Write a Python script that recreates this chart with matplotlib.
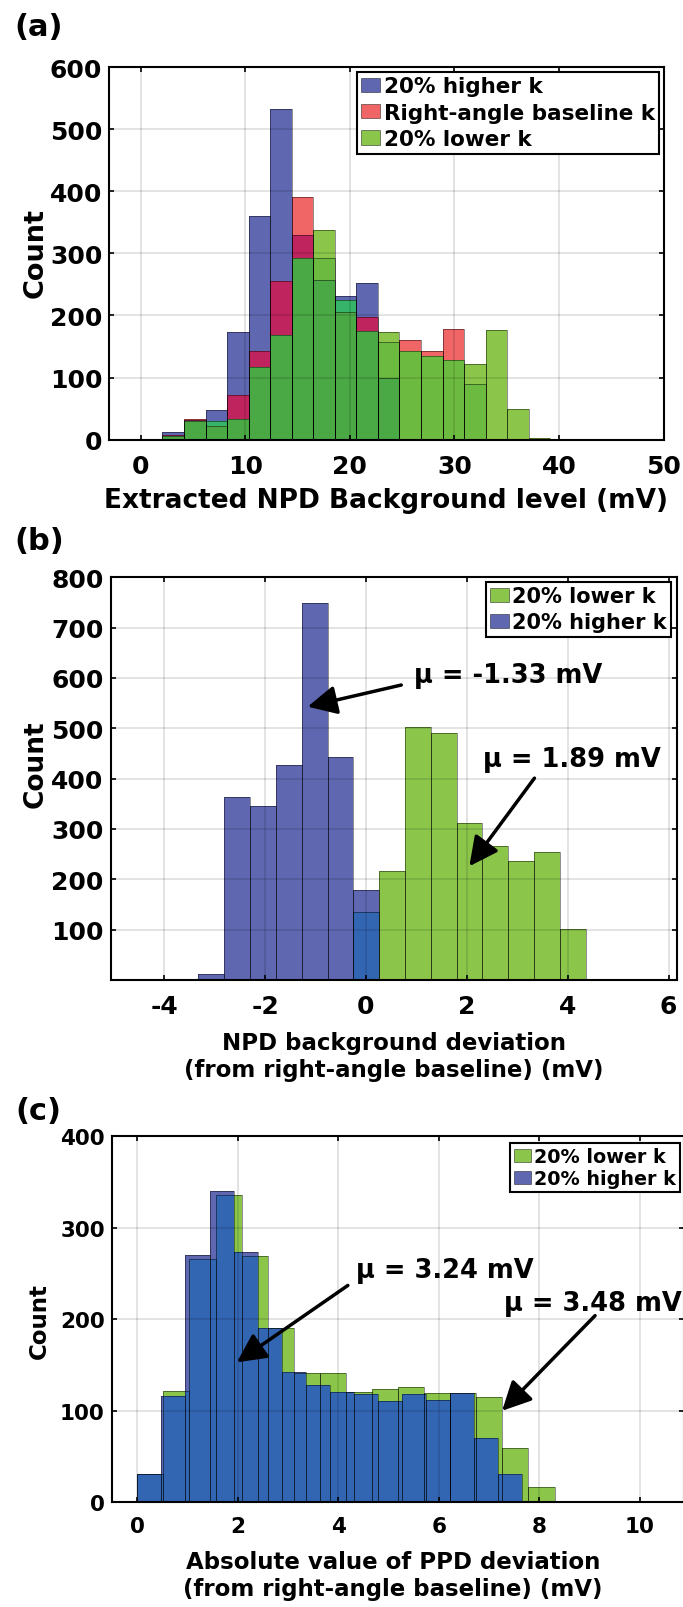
import numpy as np
import matplotlib.pyplot as plt
from matplotlib.patches import Patch

plt.rcParams["font.family"] = ["DejaVu Sans"]
plt.rcParams["font.weight"] = "bold"
plt.rcParams["axes.labelweight"] = "bold"
plt.rcParams["axes.unicode_minus"] = False

W, H = 683, 1608

# colours as they appear in the figure (single series and overlaps)
BLUE = "#5f67b1"
RED = "#f06566"
GREEN = "#8bc64b"
BLUE_RED = "#c0245e"
BLUE_GREEN = "#35b46a"
RED_GREEN = "#6cbb40"
ALL3 = "#4aa845"
OVERLAP = "#3366b2"
EDGE = (0, 0, 0, 0.45)

# (a) extracted NPD background level, shared bin edges (mV)
A_EDGES = [2.08, 4.14, 6.20, 8.26, 10.32, 12.38, 14.44, 16.50, 18.56, 20.62,
           22.68, 24.74, 26.80, 28.86, 30.92, 32.98, 35.04, 37.10, 39.16]
A_HIGHER = [13, 32, 48, 174, 360, 532, 330, 257, 231, 252, 100, 0, 0, 0, 0, 0, 0, 0]
A_BASE = [8, 33, 22, 72, 143, 255, 390, 292, 206, 197, 157, 160, 142, 178, 90, 0, 0, 0]
A_LOWER = [6, 30, 30, 34, 117, 169, 292, 338, 225, 175, 174, 143, 135, 128, 122, 176, 49, 2]

# (b) NPD background deviation from right-angle baseline (mV)
B_EDGES = [-3.32, -2.81, -2.30, -1.78, -1.27, -0.76, -0.25, 0.26, 0.77, 1.29,
           1.80, 2.31, 2.82, 3.34, 3.85, 4.36]
B_LOWER = [0, 0, 0, 0, 0, 0, 135, 216, 502, 491, 311, 267, 236, 255, 101]
B_HIGHER = [12, 363, 345, 428, 748, 443, 178, 0, 0, 0, 0, 0, 0, 0, 0]

# (c) absolute PPD deviation (mV), each series has its own bins
C_EDGES_LOWER = [0, 0.519, 1.038, 1.557, 2.076, 2.595, 3.114, 3.633, 4.152,
                 4.671, 5.190, 5.709, 6.228, 6.747, 7.266, 7.785, 8.304]
C_LOWER = [31, 122, 266, 336, 269, 190, 141, 141, 121, 124, 126, 119, 119, 115, 59, 17]
C_EDGES_HIGHER = [0, 0.479, 0.958, 1.437, 1.916, 2.395, 2.874, 3.353, 3.832,
                  4.311, 4.790, 5.269, 5.748, 6.227, 6.706, 7.185, 7.664, 8.143]
C_HIGHER = [31, 116, 270, 340, 274, 191, 142, 128, 121, 118, 111, 118, 112, 120, 70, 31, 1]

LBL_HIGHER = "20% higher k"
LBL_BASE = "Right-angle baseline k"
LBL_LOWER = "20% lower k"


def bars(ax, edges, counts, color, **kw):
    e = np.asarray(edges, dtype=float)
    return ax.bar(e[:-1], counts, width=np.diff(e), align="edge",
                  color=color, linewidth=0, **kw)


def outline(ax, edges, counts):
    e = np.asarray(edges, dtype=float)
    ax.bar(e[:-1], counts, width=np.diff(e), align="edge", fill=False,
           edgecolor=EDGE, linewidth=0.7, zorder=2)


def style(ax, fs):
    ax.set_axisbelow(False)
    ax.grid(True, color="black", alpha=0.13, linewidth=1.2)
    ax.tick_params(direction="in", length=3.6, width=1.2, top=True, right=True,
                   labelsize=fs, pad=10)
    ax.tick_params(axis="y", pad=5)
    for s in ax.spines.values():
        s.set_linewidth(1.5)


def px_axes(fig, l, t, r, b):
    return fig.add_axes([l / W, 1 - b / H, (r - l) / W, (b - t) / H])


def swatch(color):
    return Patch(facecolor=color, edgecolor=EDGE, linewidth=0.7)


def legend(ax, fig, handles, labels, right, top, fs, spacing):
    leg = ax.legend(handles, labels, loc="upper right",
                    bbox_to_anchor=(right / W, 1 - top / H),
                    bbox_transform=fig.transFigure, borderaxespad=0,
                    fontsize=fs, fancybox=False, framealpha=1,
                    edgecolor="black", handlelength=0.9, handleheight=0.65,
                    handletextpad=0.15, borderpad=0.2, labelspacing=spacing)
    leg.get_frame().set_linewidth(1.5)
    leg.set_zorder(5)


def arrow(ax, head, tail, text, text_xy, fs=18.5):
    ax.annotate("", xy=head, xytext=tail,
                arrowprops=dict(arrowstyle="-|>", color="black", lw=2.5,
                                mutation_scale=44, shrinkA=0, shrinkB=0),
                zorder=6)
    ax.text(text_xy[0], text_xy[1], text, fontsize=fs, ha="left", va="center",
            zorder=6)


fig = plt.figure(figsize=(W / 100, H / 100), dpi=100)

# ---------------- (a)
ax = px_axes(fig, 109.3, 68, 663.7, 440.7)
bars(ax, A_EDGES, A_HIGHER, BLUE)
bars(ax, A_EDGES, A_BASE, RED)
bars(ax, A_EDGES, A_LOWER, GREEN)
bars(ax, A_EDGES, np.minimum(A_HIGHER, A_BASE), BLUE_RED)
bars(ax, A_EDGES, np.minimum(A_HIGHER, A_LOWER), BLUE_GREEN)
bars(ax, A_EDGES, np.minimum(A_BASE, A_LOWER), RED_GREEN)
bars(ax, A_EDGES, np.minimum(np.minimum(A_HIGHER, A_BASE), A_LOWER), ALL3)
for c in (A_HIGHER, A_BASE, A_LOWER):
    outline(ax, A_EDGES, c)
ax.set_xlim(-3, 50)
ax.set_ylim(0, 600)
ax.set_xticks(np.arange(0, 51, 10))
ax.set_yticks(np.arange(0, 601, 100))
style(ax, 18)
ax.set_xlabel("Extracted NPD Background level (mV)", fontsize=19, va="center")
ax.xaxis.set_label_coords(386.5 / W, 1 - 501 / H, transform=fig.transFigure)
ax.set_ylabel("Count", fontsize=19.5, va="center")
ax.yaxis.set_label_coords(35.5 / W, 1 - 253 / H, transform=fig.transFigure)
legend(ax, fig, [swatch(BLUE), swatch(RED), swatch(GREEN)],
       [LBL_HIGHER, LBL_BASE, LBL_LOWER], 659, 73, 15.5, 0.3)
fig.text(14 / W, 1 - 27 / H, "(a)", fontsize=22, va="center", ha="left")

# ---------------- (b)
ax = px_axes(fig, 110.7, 578.3, 676.7, 981)
bars(ax, B_EDGES, B_LOWER, GREEN)
bars(ax, B_EDGES, B_HIGHER, BLUE)
bars(ax, B_EDGES, np.minimum(B_LOWER, B_HIGHER), OVERLAP)
outline(ax, B_EDGES, B_LOWER)
outline(ax, B_EDGES, B_HIGHER)
ax.set_xlim(-5.06, 6.16)
ax.set_ylim(0, 800)
ax.set_xticks(np.arange(-4, 7, 2))
ax.set_yticks(np.arange(100, 801, 100))
style(ax, 18)
ax.set_xlabel("NPD background deviation\n(from right-angle baseline) (mV)",
              fontsize=16.5, va="center", linespacing=1.25)
ax.xaxis.set_label_coords(394 / W, 1 - 1057 / H, transform=fig.transFigure)
ax.set_ylabel("Count", fontsize=19, va="center")
ax.yaxis.set_label_coords(35.5 / W, 1 - 764 / H, transform=fig.transFigure)
legend(ax, fig, [swatch(GREEN), swatch(BLUE)],
       [LBL_LOWER, LBL_HIGHER], 671, 583, 15, 0.3)
arrow(ax, (-1.155, 543), (0.70, 586), "\u03bc = -1.33 mV", (0.96, 606))
arrow(ax, (2.05, 226), (3.34, 401), "\u03bc = 1.89 mV", (2.33, 439))
fig.text(14 / W, 1 - 542 / H, "(b)", fontsize=22, va="center", ha="left")

# ---------------- (c)
ax = px_axes(fig, 111.7, 1137.3, 684, 1503.3)
green_step = ax.stairs(C_LOWER, C_EDGES_LOWER, fill=True, color=GREEN, linewidth=0)
bars(ax, C_EDGES_HIGHER, C_HIGHER, BLUE)
for p in bars(ax, C_EDGES_HIGHER, C_HIGHER, OVERLAP):
    p.set_clip_path(green_step)
outline(ax, C_EDGES_LOWER, C_LOWER)
outline(ax, C_EDGES_HIGHER, C_HIGHER)
ax.set_xlim(-0.51, 10.88)
ax.set_ylim(0, 400)
ax.set_xticks(np.arange(0, 11, 2))
ax.set_yticks(np.arange(0, 401, 100))
style(ax, 15.5)
ax.set_xlabel("Absolute value of PPD deviation\n(from right-angle baseline) (mV)",
              fontsize=16.5, va="center", linespacing=1.25)
ax.xaxis.set_label_coords(393 / W, 1 - 1576 / H, transform=fig.transFigure)
ax.set_ylabel("Count", fontsize=16.5, va="center")
ax.yaxis.set_label_coords(39 / W, 1 - 1321 / H, transform=fig.transFigure)
legend(ax, fig, [swatch(GREEN), swatch(BLUE)],
       [LBL_LOWER, LBL_HIGHER], 680, 1144.3, 13.8, 0.15)
arrow(ax, (1.98, 153), (4.19, 237), "\u03bc = 3.24 mV", (4.35, 254))
arrow(ax, (7.26, 100), (9.11, 204), "\u03bc = 3.48 mV", (7.30, 218))
fig.text(15 / W, 1 - 1112 / H, "(c)", fontsize=22, va="center", ha="left")

fig.savefig("out.png", dpi=100)
